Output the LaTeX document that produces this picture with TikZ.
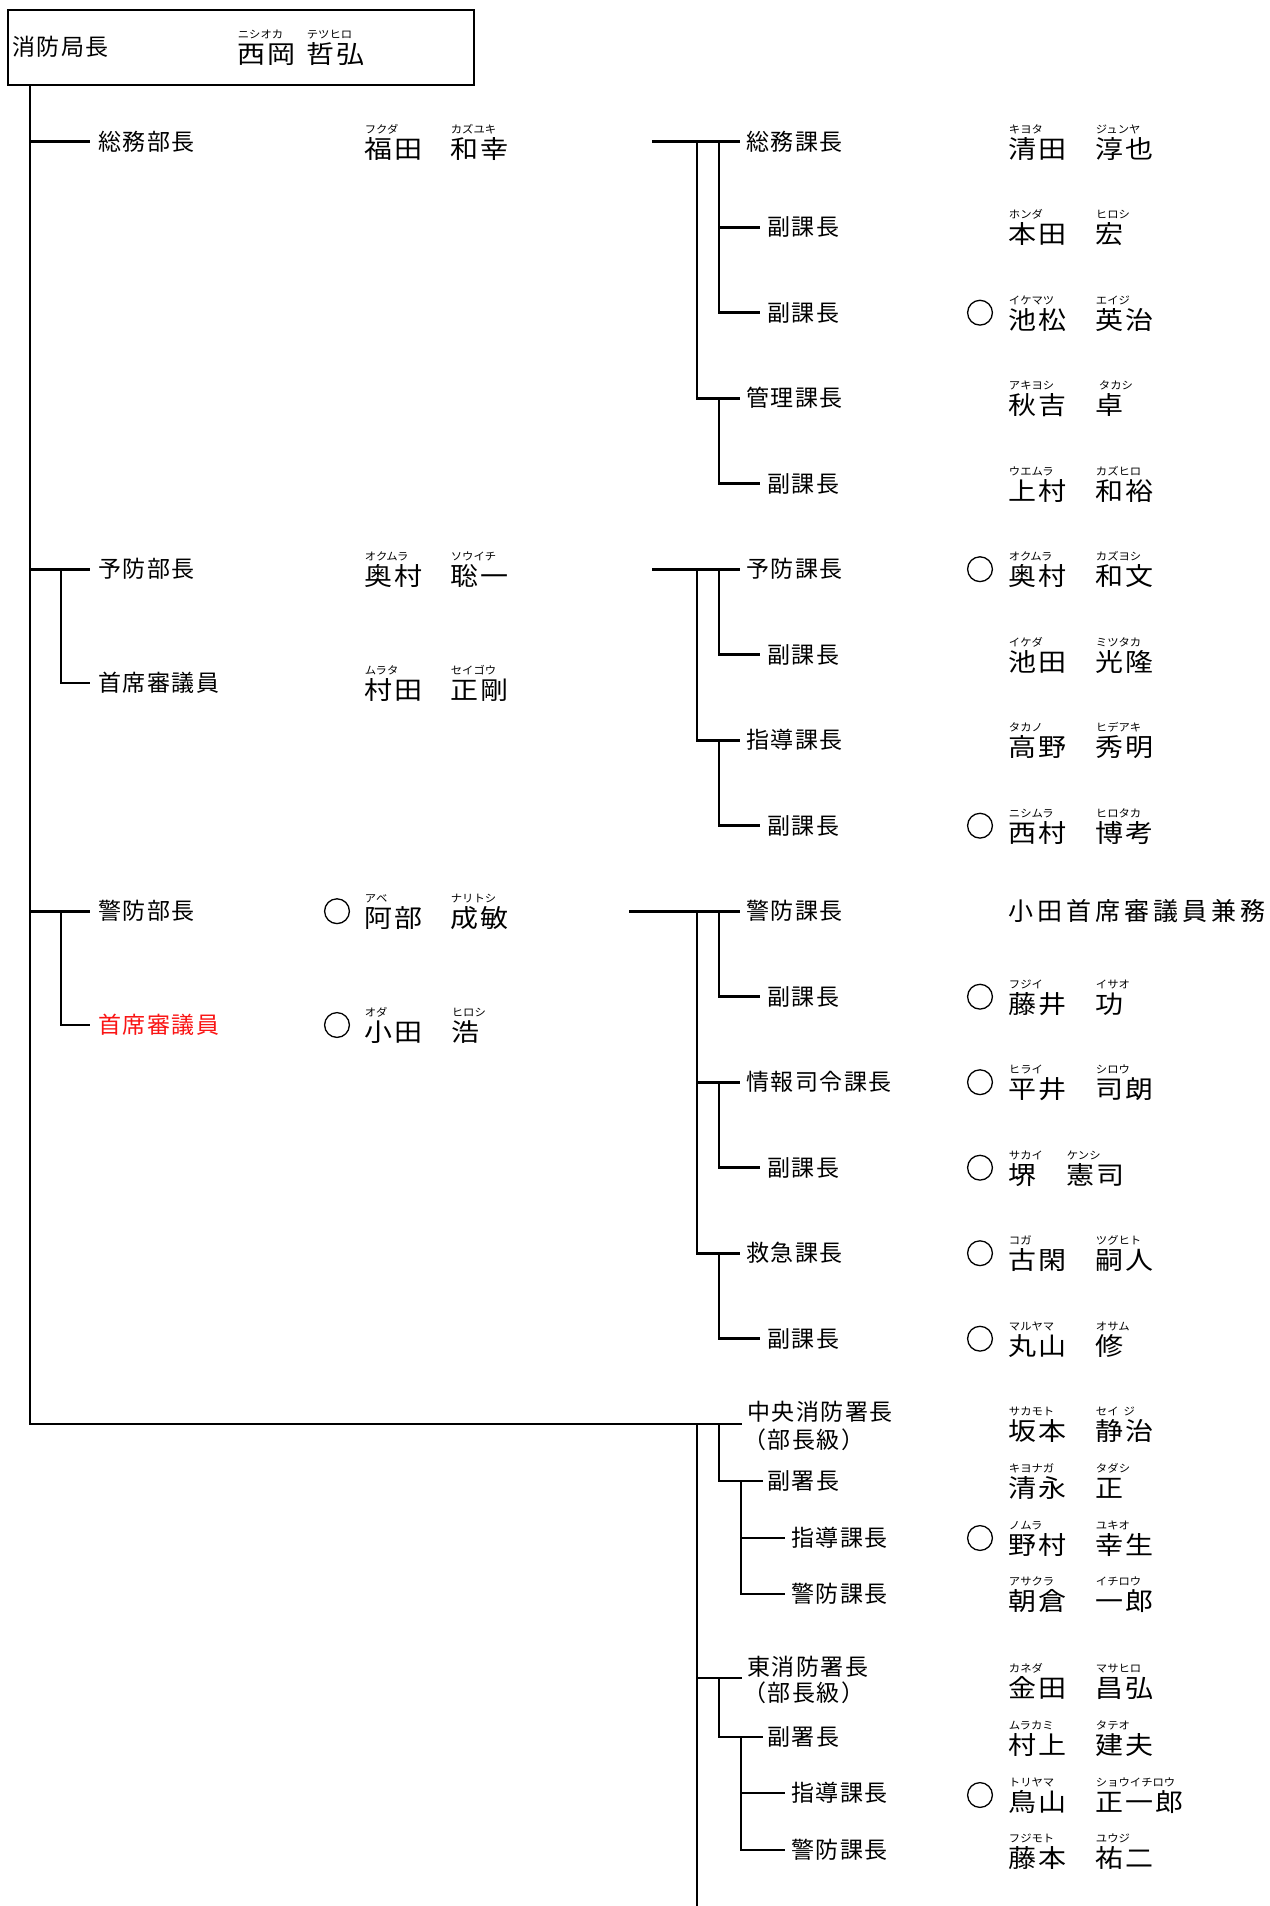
\documentclass[tikz,border=0pt]{standalone}
\usepackage{fontspec}
\setmainfont{Noto Sans CJK JP}
\newfontfamily\nmfont[FakeStretch=1.12]{Noto Sans CJK JP}
\newfontfamily\fufont[FakeStretch=1.05]{Noto Sans CJK JP}
\definecolor{cRed}{RGB}{250,20,20}
\newcommand\trk[2]{\def\trkw{#1}\trkloop#2\relax}
\def\trkloop#1{\ifx\relax#1\else\makebox[\trkw][l]{#1}\expandafter\trkloop\fi}
\tikzset{
  lab/.style={anchor=base west, inner sep=0pt, font=\fontsize{11.5pt}{12pt}\selectfont},
  nm/.style={anchor=base west, inner sep=0pt, font=\nmfont\fontsize{12.5pt}{14pt}\selectfont},
  fu/.style={anchor=base west, inner sep=0pt, font=\fufont\fontsize{5.4pt}{6pt}\selectfont},
  ring/.style={circle, draw, line width=0.65pt, minimum size=12.4pt, inner sep=0pt},
  ln/.style={line width=1.3pt},
}
% label: [opts]{id}{x}{row}{text}
\newcommand\lab[5][]{\node[lab,#1] (#2) at (#3,#4+8.7) {\trk{12.25pt}{#5}};}
% person: {id}{x}{row}{kanji}{furigana}
\newcommand\pers[5]{%
  \node[nm] (#1) at (#2-1,#3+16.6) {\trk{15pt}{#4}};
  \node[fu] (#1f) at (#2-0.5,#3-8.5) {#5};}
\newcommand\rg[3]{\node[ring] (#1) at (#2,#3) {};}
\begin{document}
\begin{tikzpicture}[x=0.5pt,y=-0.5pt]
\fill[white] (0,0) rectangle (1269,1906);
\useasboundingbox (0,0) rectangle (1269,1906);

% ---------- top box ----------
\node[draw, line width=1pt, anchor=north west, minimum width=233pt, minimum height=37.5pt, inner sep=0pt] (top) at (7,9) {};
\lab{chief}{12}{47}{消防局長}
\pers{chs}{238}{47}{西岡}{ニシオカ}
\pers{chg}{307}{47}{哲弘}{テツヒロ}

% ---------- left departments ----------
\lab{d1}{98}{141.7}{総務部長}
\lab{d2}{98}{569.2}{予防部長}
\lab{d3}{98}{683}{首席審議員}
\lab{d4}{98}{911.2}{警防部長}
\lab[text=cRed]{d5}{98}{1025}{首席審議員}

\pers{p1s}{365}{141.7}{福田}{フクダ}
\pers{p1g}{451}{141.7}{和幸}{カズユキ}
\pers{p2s}{365}{569.2}{奥村}{オクムラ}
\pers{p2g}{451}{569.2}{聡一}{ソウイチ}
\pers{p3s}{365}{683}{村田}{ムラタ}
\pers{p3g}{451}{683}{正剛}{セイゴウ}
\rg{p4r}{337}{911.2}
\pers{p4s}{365}{911.2}{阿部}{アベ}
\pers{p4g}{451}{911.2}{成敏}{ナリトシ}
\rg{p5r}{337}{1025}
\pers{p5s}{365}{1025}{小田}{オダ}
\pers{p5g}{452}{1025}{浩}{ヒロシ}

% ---------- right labels ----------
\lab{c0l}{746}{141.7}{総務課長}
\lab{c1l}{767}{227.2}{副課長}
\lab{c2l}{767}{312.7}{副課長}
\lab{c3l}{746}{398.2}{管理課長}
\lab{c4l}{767}{483.7}{副課長}
\lab{c5l}{746}{569.2}{予防課長}
\lab{c6l}{767}{654.7}{副課長}
\lab{c7l}{746}{740.2}{指導課長}
\lab{c8l}{767}{825.7}{副課長}
\lab{c9l}{746}{911.2}{警防課長}
\lab{c10l}{767}{996.7}{副課長}
\lab{c11l}{746}{1082.2}{情報司令課長}
\lab{c12l}{767}{1167.7}{副課長}
\lab{c13l}{746}{1253.2}{救急課長}
\lab{c14l}{767}{1338.7}{副課長}

\lab{s1l}{747}{1412}{中央消防署長}
\node[lab] (s1k) at (743,1440+8.7) {\trk{12.25pt}{（部長級）}};
\lab{s1a}{767}{1481}{副署長}
\lab{s1b}{791}{1538}{指導課長}
\lab{s1c}{791}{1594}{警防課長}
\lab{s2l}{747}{1667}{東消防署長}
\node[lab] (s2k) at (743,1693+8.7) {\trk{12.25pt}{（部長級）}};
\lab{s2a}{767}{1737}{副署長}
\lab{s2b}{791}{1793}{指導課長}
\lab{s2c}{791}{1850}{警防課長}

% ---------- right persons ----------
\pers{q0s}{1009}{141.7}{清田}{キヨタ}
\pers{q0g}{1096}{141.7}{淳也}{ジュンヤ}
\pers{q1s}{1009}{227.2}{本田}{ホンダ}
\pers{q1g}{1096}{227.2}{宏}{ヒロシ}
\rg{q2r}{980}{312.7}
\pers{q2s}{1009}{312.7}{池松}{イケマツ}
\pers{q2g}{1096}{312.7}{英治}{エイジ}
\pers{q3s}{1009}{398.2}{秋吉}{アキヨシ}
\pers{q3g}{1096}{398.2}{卓}{\hspace{1.5pt}タカシ}
\pers{q4s}{1009}{483.7}{上村}{ウエムラ}
\pers{q4g}{1096}{483.7}{和裕}{カズヒロ}
\rg{q5r}{980}{569.2}
\pers{q5s}{1009}{569.2}{奥村}{オクムラ}
\pers{q5g}{1096}{569.2}{和文}{カズヨシ}
\pers{q6s}{1009}{654.7}{池田}{イケダ}
\pers{q6g}{1096}{654.7}{光隆}{ミツタカ}
\pers{q7s}{1009}{740.2}{高野}{タカノ}
\pers{q7g}{1096}{740.2}{秀明}{ヒデアキ}
\rg{q8r}{980}{825.7}
\pers{q8s}{1009}{825.7}{西村}{ニシムラ}
\pers{q8g}{1096}{825.7}{博考}{ヒロタカ}
\node[anchor=base west, inner sep=0pt, font=\fontsize{12.5pt}{13pt}\selectfont] (q9) at (1008,911.2+9.5) {\trk{14.5pt}{小田首席審議員兼務}};
\rg{q10r}{980}{996.7}
\pers{q10s}{1009}{996.7}{藤井}{フジイ}
\pers{q10g}{1096}{996.7}{功}{イサオ}
\rg{q11r}{980}{1082.2}
\pers{q11s}{1009}{1082.2}{平井}{ヒライ}
\pers{q11g}{1096}{1082.2}{司朗}{シロウ}
\rg{q12r}{980}{1167.7}
\pers{q12s}{1009}{1167.7}{堺}{サカイ}
\pers{q12g}{1067}{1167.7}{憲司}{ケンシ}
\rg{q13r}{980}{1253.2}
\pers{q13s}{1009}{1253.2}{古閑}{コガ}
\pers{q13g}{1096}{1253.2}{嗣人}{ツグヒト}
\rg{q14r}{980}{1338.7}
\pers{q14s}{1009}{1338.7}{丸山}{マルヤマ}
\pers{q14g}{1096}{1338.7}{修}{オサム}

\pers{b0s}{1009}{1424}{坂本}{サカモト}
\pers{b0g}{1096}{1424}{静治}{セイ\hspace{2.5pt}ジ}
\pers{b1s}{1009}{1481}{清永}{キヨナガ}
\pers{b1g}{1096}{1481}{正}{タダシ}
\rg{b2r}{980}{1538}
\pers{b2s}{1009}{1538}{野村}{ノムラ}
\pers{b2g}{1096}{1538}{幸生}{ユキオ}
\pers{b3s}{1009}{1594}{朝倉}{アサクラ}
\pers{b3g}{1096}{1594}{一郎}{イチロウ}
\pers{b4s}{1009}{1681}{金田}{カネダ}
\pers{b4g}{1096}{1681}{昌弘}{マサヒロ}
\pers{b5s}{1009}{1738}{村上}{ムラカミ}
\pers{b5g}{1096}{1738}{建夫}{タテオ}
\rg{b6r}{980}{1795}
\pers{b6s}{1009}{1795}{鳥山}{トリヤマ}
\pers{b6g}{1096}{1795}{正一郎}{ショウイチロウ}
\pers{b7s}{1009}{1851}{藤本}{フジモト}
\pers{b7g}{1096}{1851}{祐二}{ユウジ}

% ---------- connector coordinates ----------
\coordinate (T) at (30,1424);
\coordinate (b1) at (90,141.7);
\coordinate (b2) at (90,569.2);
\coordinate (b3) at (90,683);
\coordinate (b4) at (90,911.2);
\coordinate (b5) at (90,1025);
\coordinate (v1) at (61,569.2);
\coordinate (v2) at (61,911.2);

\coordinate (g1) at (652,141.7);
\coordinate (g2) at (652,569.2);
\coordinate (g3) at (629,911.2);
\coordinate (o1) at (697,141.7);
\coordinate (i1) at (719,141.7);
\coordinate (c0) at (740,141.7);
\coordinate (c1) at (760,227.2);
\coordinate (c2) at (760,312.7);
\coordinate (c3) at (740,398.2);
\coordinate (c4) at (760,483.7);
\coordinate (c5) at (740,569.2);
\coordinate (c6) at (760,654.7);
\coordinate (c7) at (740,740.2);
\coordinate (c8) at (760,825.7);
\coordinate (c9) at (740,911.2);
\coordinate (c10) at (760,996.7);
\coordinate (c11) at (740,1082.2);
\coordinate (c12) at (760,1167.7);
\coordinate (c13) at (740,1253.2);
\coordinate (c14) at (760,1338.7);

\coordinate (h1) at (742,1424);
\coordinate (h2) at (742,1678);
\coordinate (s1) at (763,1481);
\coordinate (k1) at (785,1538);
\coordinate (k2) at (785,1594);
\coordinate (s2) at (763,1737);
\coordinate (k3) at (785,1793);
\coordinate (k4) at (785,1850);
\coordinate (jx) at (741,1481);
\coordinate (bot) at (697,1906);

% ---------- connectors ----------
\draw[ln] (top.south -| T) -- (T) -- (h1);
\draw[ln] (b1 -| T) -- (b1);
\draw[ln] (b2 -| T) -- (b2);
\draw[ln] (v1) |- (b3);
\draw[ln] (b4 -| T) -- (b4);
\draw[ln] (v2) |- (b5);

\draw[ln] (g1) -- (c0);
\draw[ln] (o1) |- (c3);
\draw[ln] (i1) |- (c2);
\draw[ln] (c1 -| i1) -- (c1);
\draw[ln] (c3 -| i1) |- (c4);

\draw[ln] (g2) -- (c5);
\draw[ln] (c5 -| o1) |- (c7);
\draw[ln] (c5 -| i1) |- (c6);
\draw[ln] (c7 -| i1) |- (c8);

\draw[ln] (g3) -- (c9);
\draw[ln] (c9 -| o1) |- (c13);
\draw[ln] (c11 -| o1) -- (c11);
\draw[ln] (c9 -| i1) |- (c10);
\draw[ln] (c11 -| i1) |- (c12);
\draw[ln] (c13 -| i1) |- (c14);

\draw[ln] (h1 -| bot) -- (bot);
\draw[ln] (h2 -| bot) -- (h2);
\draw[ln] (h1 -| i1) |- (s1);
\draw[ln] (s1 -| jx) |- (k2);
\draw[ln] (k1 -| jx) -- (k1);
\draw[ln] (h2 -| i1) |- (s2);
\draw[ln] (s2 -| jx) |- (k4);
\draw[ln] (k3 -| jx) -- (k3);
\end{tikzpicture}
\end{document}
